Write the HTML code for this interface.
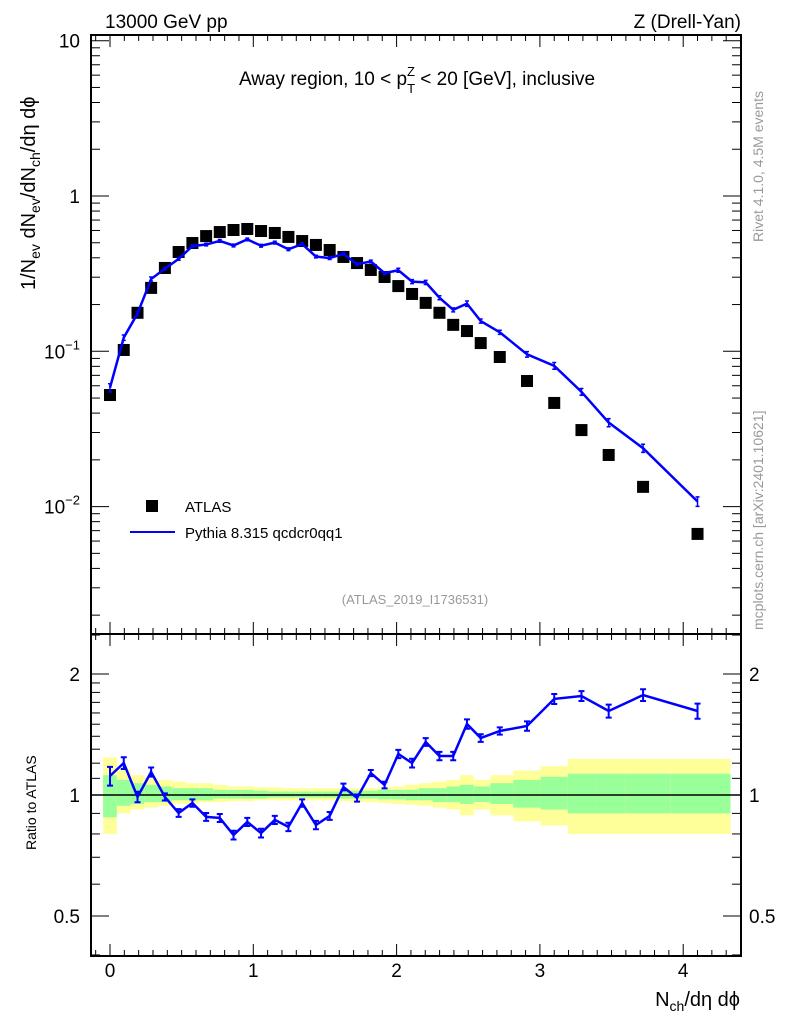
<!DOCTYPE html>
<html><head><meta charset="utf-8"><style>
body{margin:0;background:#fff}
svg{display:block;font-family:"Liberation Sans",sans-serif}
</style></head><body>
<svg id="chart" width="786" height="1024" xmlns="http://www.w3.org/2000/svg">
<text x="105" y="28" font-size="19">13000 GeV pp</text>
<text x="741" y="28" font-size="19" text-anchor="end">Z (Drell-Yan)</text>
<text x="417" y="85" font-size="19" text-anchor="middle">Away region, 10 &lt; p<tspan font-size="13" dy="8">T</tspan><tspan font-size="13" dx="-8" dy="-17">Z</tspan><tspan dy="9"> &lt; 20 [GeV], inclusive</tspan></text>
<text transform="translate(35,290) rotate(-90)" font-size="20">1/N<tspan font-size="14" dy="5">ev</tspan><tspan dy="-5"> dN</tspan><tspan font-size="14" dy="5">ev</tspan><tspan dy="-5">/dN</tspan><tspan font-size="14" dy="5">ch</tspan><tspan dy="-5">/dη dϕ</tspan></text>
<text transform="translate(36,850) rotate(-90)" font-size="14">Ratio to ATLAS</text>
<text x="740" y="1006" font-size="20" text-anchor="end">N<tspan font-size="14" dy="5">ch</tspan><tspan dy="-5">/dη dϕ</tspan></text>
<text transform="translate(763,242) rotate(-90)" font-size="14" fill="#999">Rivet 4.1.0,  4.5M events</text>
<text transform="translate(763,630) rotate(-90)" font-size="14" fill="#999">mcplots.cern.ch [arXiv:2401.10621]</text>
<text x="415" y="604" font-size="13" fill="#999" text-anchor="middle">(ATLAS_2019_I1736531)</text>
<g id="bands"></g><g id="axes"></g><g id="marks"></g>
<g>
<rect x="146" y="500" width="12" height="12" fill="#000"/>
<text x="185" y="512" font-size="15">ATLAS</text>
<line x1="130" y1="532" x2="175" y2="532" stroke="#00f" stroke-width="2"/>
<text x="185" y="538" font-size="15">Pythia 8.315 qcdcr0qq1</text>
</g>
</svg>
<script>
const xVals=[0,0.096,0.192,0.287,0.383,0.479,0.575,0.671,0.766,0.862,0.958,1.054,1.15,1.245,1.341,1.437,1.533,1.629,1.724,1.82,1.916,2.012,2.108,2.203,2.299,2.395,2.491,2.587,2.72,2.91,3.1,3.29,3.48,3.72,4.1];
const atlas=[0.0523,0.102,0.177,0.256,0.344,0.436,0.498,0.552,0.586,0.604,0.613,0.595,0.578,0.545,0.513,0.484,0.449,0.405,0.37,0.334,0.301,0.263,0.234,0.205,0.177,0.148,0.135,0.113,0.0919,0.0644,0.0465,0.0311,0.0215,0.0134,0.00667];
const ratio=[1.115,1.201,0.989,1.141,0.989,0.902,0.955,0.882,0.877,0.795,0.857,0.804,0.867,0.833,0.955,0.842,0.887,1.047,0.983,1.134,1.059,1.265,1.201,1.355,1.25,1.25,1.502,1.386,1.443,1.485,1.734,1.763,1.618,1.773,1.618];
const ratioErr=[0.06,0.04,0.03,0.03,0.02,0.02,0.02,0.02,0.02,0.02,0.02,0.02,0.02,0.02,0.02,0.02,0.02,0.02,0.02,0.02,0.02,0.03,0.03,0.03,0.03,0.03,0.04,0.03,0.03,0.04,0.05,0.05,0.06,0.06,0.07];
const yelHi=[1.24,1.16,1.12,1.1,1.09,1.08,1.07,1.07,1.06,1.05,1.05,1.045,1.045,1.04,1.04,1.04,1.04,1.04,1.04,1.04,1.045,1.05,1.06,1.07,1.08,1.09,1.12,1.09,1.12,1.15,1.18,1.23,1.23,1.23,1.23];
const yelLo=[0.8,0.9,0.92,0.93,0.94,0.95,0.95,0.96,0.96,0.965,0.965,0.97,0.97,0.97,0.97,0.97,0.97,0.965,0.96,0.96,0.955,0.95,0.945,0.94,0.93,0.92,0.89,0.92,0.89,0.86,0.84,0.8,0.8,0.8,0.8];
const grnHi=[1.12,1.09,1.07,1.06,1.05,1.04,1.04,1.04,1.03,1.03,1.03,1.025,1.02,1.02,1.02,1.02,1.02,1.02,1.025,1.025,1.03,1.03,1.03,1.04,1.04,1.05,1.06,1.05,1.07,1.09,1.11,1.13,1.13,1.13,1.13];
const grnLo=[0.88,0.94,0.95,0.96,0.96,0.97,0.97,0.97,0.98,0.98,0.98,0.98,0.985,0.985,0.985,0.985,0.985,0.98,0.98,0.98,0.975,0.975,0.97,0.97,0.96,0.96,0.95,0.96,0.95,0.93,0.92,0.9,0.9,0.9,0.9];
const mainTicks=[{v:10,t:"10"},{v:1,t:"1"},{v:0.1,t:"10",e:"−1"},{v:0.01,t:"10",e:"−2"}];
const ratioTicks=[2,1,0.5];
const xTicks=[0,1,2,3,4];

const L=91,R=741,T=35,M=634,B=956;
const NS="http://www.w3.org/2000/svg";
const X=v=>110+143.3*v;
const YM=v=>196-155.3*Math.log10(v);
const YR=v=>795-121*Math.log2(v);
function mk(tag,attrs,parent){const e=document.createElementNS(NS,tag);for(const k in attrs)e.setAttribute(k,attrs[k]);parent.appendChild(e);return e;}
const axes=document.getElementById('axes'),marks=document.getElementById('marks'),bands=document.getElementById('bands');

for(let i=0;i<xVals.length;i++){
  const x0=i==0?xVals[0]-(xVals[1]-xVals[0])/2:(xVals[i-1]+xVals[i])/2;
  const x1=i==xVals.length-1?4.33:(xVals[i]+xVals[i+1])/2;
  const y=mk('rect',{x:X(x0),y:YR(yelHi[i]),width:X(x1)-X(x0),height:YR(yelLo[i])-YR(yelHi[i]),fill:'#ffff99'},bands);
  
  
  const g=mk('rect',{x:X(x0),y:YR(grnHi[i]),width:X(x1)-X(x0),height:YR(grnLo[i])-YR(grnHi[i]),fill:'#99ff99'},bands);
  
  
}
const f1=mk('rect',{x:L,y:T,width:R-L,height:M-T,fill:'none',stroke:'#000','stroke-width':2},axes);


const f2=mk('rect',{x:L,y:M,width:R-L,height:B-M,fill:'none',stroke:'#000','stroke-width':2},axes);


const ref=mk('line',{x1:L,x2:R,y1:YR(1),y2:YR(1),stroke:'#000','stroke-width':1.5},axes);


for(let k=-1;k<=44;k++){const v=k/10,px=X(v);if(px<L+1||px>R-1)continue;const maj=k%10==0;const len=maj?12:6;
  for(const [y0,d] of [[T,1],[M,-1],[M,1],[B,-1]]){const t=mk('line',{x1:px,x2:px,y1:y0,y2:y0+d*len,stroke:'#000','stroke-width':1},axes);
  
  }}
xTicks.forEach(v=>{const t=mk('text',{x:X(v),y:977,'font-size':19,'text-anchor':'middle'},axes);t.textContent=v;
  
  });
for(let d=-3;d<=1;d++)for(let m=1;m<=9;m++){const v=m*Math.pow(10,d),py=YM(v);if(py<T+1||py>M-1)continue;const len=m==1?18:9;
  for(const [x0,s] of [[L,1],[R,-1]]){const t=mk('line',{x1:x0,x2:x0+s*len,y1:py,y2:py,stroke:'#000','stroke-width':1},axes);
  
  }}
mainTicks.forEach(o=>{const t=mk('text',{x:80,y:YM(o.v)+7,'font-size':19,'text-anchor':'end'},axes);
  
  
  const a=mk('tspan',{},t);a.textContent=o.t;
  if(o.e){const s=mk('tspan',{'font-size':13,dy:-9},t);s.textContent=o.e;}});
for(const v of [0.4,0.5,0.6,0.7,0.8,0.9,1,1.1,1.2,1.3,1.4,1.5,1.6,1.7,1.8,1.9,2,2.5]){const py=YR(v);if(py<M+1||py>B-1)continue;const len=(v==0.5||v==1||v==2)?18:9;
  for(const [x0,s] of [[L,1],[R,-1]]){const t=mk('line',{x1:x0,x2:x0+s*len,y1:py,y2:py,stroke:'#000','stroke-width':1},axes);
  
  }}
ratioTicks.forEach(v=>{for(const [x,a] of [[80,'end'],[749,'start']]){const t=mk('text',{x:x,y:YR(v)+7,'font-size':19,'text-anchor':a},axes);t.textContent=v;
  
  }});
atlas.forEach((v,i)=>{const r=mk('rect',{x:X(xVals[i])-6,y:YM(v)-6,width:12,height:12,fill:'#000'},marks);
  
  });
const mc=atlas.map((v,i)=>v*ratio[i]);
const pl=mk('polyline',{points:mc.map((v,i)=>X(xVals[i])+','+YM(v)).join(' '),fill:'none',stroke:'#00f','stroke-width':2.5},marks);


mc.forEach((v,i)=>{const px=X(xVals[i]);const e=mk('path',{d:`M${px-2},${YM(v*(1+ratioErr[i]))}h4M${px},${YM(v*(1+ratioErr[i]))}V${YM(v*(1-ratioErr[i]))}M${px-2},${YM(v*(1-ratioErr[i]))}h4`,stroke:'#00f','stroke-width':1.5,fill:'none'},marks);
  
  });
const rl=mk('polyline',{points:ratio.map((v,i)=>X(xVals[i])+','+YR(v)).join(' '),fill:'none',stroke:'#00f','stroke-width':2.5},marks);


ratio.forEach((v,i)=>{const px=X(xVals[i]),y1=YR(v+ratioErr[i]),y2=YR(v-ratioErr[i]);const e=mk('path',{d:`M${px-3},${y1}h6M${px},${y1}V${y2}M${px-3},${y2}h6`,stroke:'#00f','stroke-width':2,fill:'none'},marks);
  
  });
</script>
</body></html>
